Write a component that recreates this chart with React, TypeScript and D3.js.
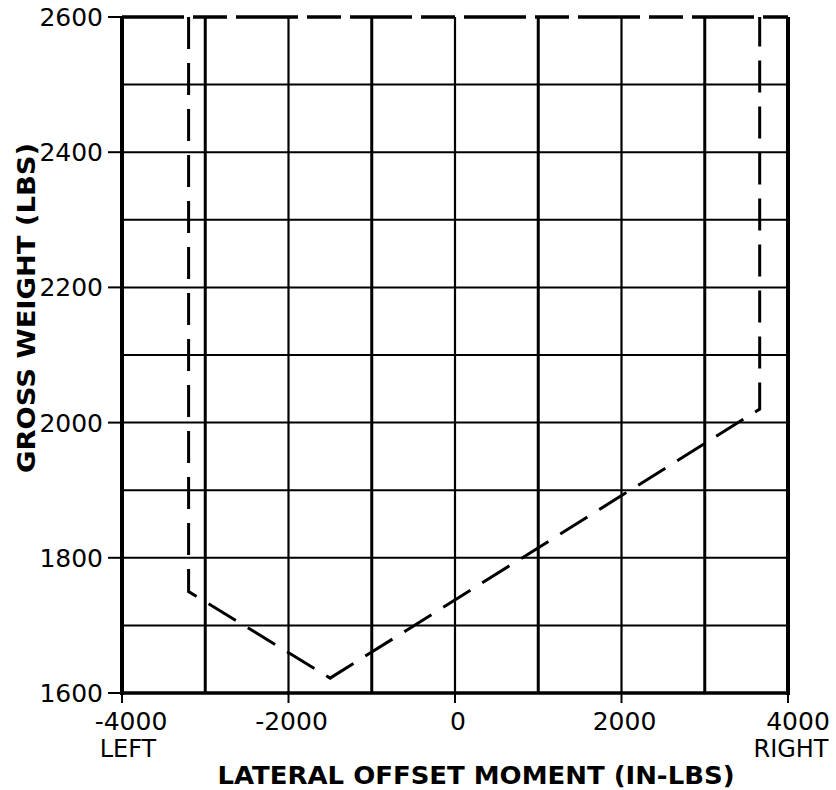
import React from "react";
import * as d3 from "d3";

const xTicks = [-4000, -2000, 0, 2000, 4000];
const xTickLabels = ["-4000", "-2000", "0", "2000", "4000"];
const xSubLabels = ["LEFT", "", "", "", "RIGHT"];
const xGrid = [-3000, -2000, -1000, 0, 1000, 2000, 3000];
const yTicks = [1600, 1800, 2000, 2200, 2400, 2600];
const yTickLabels = ["1600", "1800", "2000", "2200", "2400", "2600"];
const yGrid = [1700, 1800, 1900, 2000, 2100, 2200, 2300, 2400, 2500];
const envelopeX = [-3200, -3200, -1500, 3660, 3660];
const envelopeY = [2600, 1750, 1622, 2020, 2600];
const topEdgeX = [-4000, 4000];
const topEdgeY = [2600, 2600];

const W = 836;
const H = 790;

export default function App() {
  const x = d3.scaleLinear().domain([-4000, 4000]).range([122, 788]);
  const y = d3.scaleLinear().domain([1600, 2600]).range([693, 17]);
  const line = d3
    .line<[number, number]>()
    .x((d) => x(d[0]))
    .y((d) => y(d[1]));
  const env: [number, number][] = envelopeX.map((v, i) => [v, envelopeY[i]]);
  const top: [number, number][] = topEdgeX.map((v, i) => [v, topEdgeY[i]]);
  const font = "'DejaVu Sans', sans-serif";
  const labelShift = (i: number) => (i === 0 ? 9 : i === xTicks.length - 1 ? 10 : 3);
  const subShift = (i: number) => (i === 0 ? 6 : 3);

  return (
    <svg
      width={W}
      height={H}
      viewBox={`0 0 ${W} ${H}`}
      style={{ position: "absolute", left: 0, top: 0, background: "#fff" }}
    >
      <rect x={0} y={0} width={W} height={H} fill="#fff" />
      {/* horizontal grid */}
      {yGrid.map((v) => (
        <line key={"hy" + v} x1={x(-4000)} x2={x(4000)} y1={y(v)} y2={y(v)} stroke="#000" strokeWidth={2} />
      ))}
      {/* vertical grid */}
      {xGrid.map((v) => (
        <line
          key={"vx" + v}
          x1={x(v)}
          x2={x(v)}
          y1={y(1600)}
          y2={y(2600)}
          stroke="#000"
          strokeWidth={v % 2000 === 0 ? 2.2 : 3}
        />
      ))}
      {/* frame: left, bottom, right */}
      <line x1={x(-4000)} x2={x(-4000)} y1={y(1600) + 2} y2={y(2600)} stroke="#000" strokeWidth={4} />
      <line x1={x(-4000)} x2={x(4000)} y1={y(1600)} y2={y(1600)} stroke="#000" strokeWidth={3.5} />
      <line x1={x(4000)} x2={x(4000)} y1={y(1600) + 2} y2={y(2600)} stroke="#000" strokeWidth={4} />
      {/* top edge dashed */}
      <path d={line(top) || ""} fill="none" stroke="#000" strokeWidth={3.5} strokeDasharray="62,9,34,9" />
      {/* envelope */}
      <path
        d={line(env) || ""}
        fill="none"
        stroke="#000"
        strokeWidth={3}
        strokeDasharray="32,14"
        strokeLinejoin="miter"
      />
      {/* y ticks and labels */}
      {yTicks.map((v, i) => (
        <g key={"yt" + v}>
          <line x1={x(-4000) - 14} x2={x(-4000)} y1={y(v)} y2={y(v)} stroke="#000" strokeWidth={2} />
          <text
            x={103}
            y={y(v)}
            dy="0.36em"
            textAnchor="end"
            fontFamily={font}
            fontSize={25}
            fill="#000"
          >
            {yTickLabels[i]}
          </text>
        </g>
      ))}
      {/* x ticks and labels */}
      {xTicks.map((v, i) => (
        <g key={"xt" + v}>
          <line x1={x(v)} x2={x(v)} y1={y(1600)} y2={y(1600) + 10} stroke="#000" strokeWidth={2} />
          <text
            x={x(v) + labelShift(i)}
            y={730}
            textAnchor="middle"
            fontFamily={font}
            fontSize={25}
            fill="#000"
          >
            {xTickLabels[i]}
          </text>
          {xSubLabels[i] ? (
            <text
              x={x(v) + subShift(i)}
              y={757}
              textAnchor="middle"
              fontFamily={font}
              fontSize={24}
              fill="#000"
            >
              {xSubLabels[i]}
            </text>
          ) : null}
        </g>
      ))}
      {/* axis titles */}
      <text
        x={476}
        y={784}
        textAnchor="middle"
        fontFamily={font}
        fontWeight="bold"
        fontSize={25}
        textLength={517}
        lengthAdjust="spacingAndGlyphs"
        fill="#000"
      >
        LATERAL  OFFSET  MOMENT  (IN-LBS)
      </text>
      <text
        transform={`translate(35,308) rotate(-90)`}
        textAnchor="middle"
        fontFamily={font}
        fontWeight="bold"
        fontSize={25}
        textLength={330}
        lengthAdjust="spacingAndGlyphs"
        fill="#000"
      >
        GROSS  WEIGHT  (LBS)
      </text>
    </svg>
  );
}
